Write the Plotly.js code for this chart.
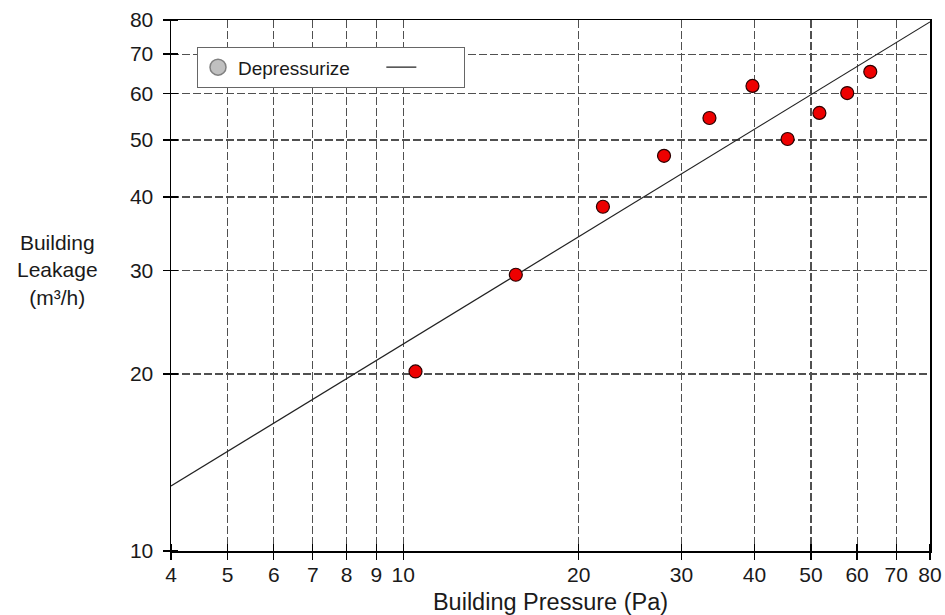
<!DOCTYPE html>
<html>
<head>
<meta charset="utf-8">
<script src="https://cdn.plot.ly/plotly-3.0.1.min.js"></script>
<style>
html,body{margin:0;padding:0;background:#fff;}
#chart{width:945px;height:615px;}
</style>
</head>
<body>
<div id="chart"></div>
<script>
// Measured points (Building Pressure in Pa, Building Leakage in m³/h)
var pressure = [10.5, 15.6, 22.0, 28.0, 33.5, 39.7, 45.6, 51.7, 57.7, 63.2];
var leakage  = [20.2, 29.5, 38.5, 47.0, 54.5, 61.8, 50.2, 55.6, 60.1, 65.3];

// Fitted power-law line endpoints
var fitPressure = [4, 80];
var fitLeakage  = [12.9, 79.4];

var legendName = "Depressurize";
var xTickVals = [4, 5, 6, 7, 8, 9, 10, 20, 30, 40, 50, 60, 70, 80];
var xTickText = ["4", "5", "6", "7", "8", "9", "10", "20", "30", "40", "50", "60", "70", "80"];
var yTickVals = [10, 20, 30, 40, 50, 60, 70, 80];
var yTickText = ["10", "20", "30", "40", "50", "60", "70", "80"];
var xTitle = "Building Pressure (Pa)";
var yTitle = "Building<br>Leakage<br>(m³/h)";

var FONT = "Liberation Sans, Arial, sans-serif";
var NB = "\u00a0";

var traces = [
  {
    x: [null], y: [null],
    type: "scatter", mode: "markers",
    name: legendName + NB + NB + NB + NB + NB,
    marker: {color: "#c0c0c0", size: 16, line: {color: "#808080", width: 1.5}},
    showlegend: true, hoverinfo: "skip"
  },
  {
    x: fitPressure, y: fitLeakage,
    type: "scatter", mode: "lines",
    name: NB + NB + NB + NB + NB + NB + NB,
    line: {color: "#222222", width: 1.2},
    showlegend: true, hoverinfo: "skip"
  },
  {
    x: pressure, y: leakage,
    type: "scatter", mode: "markers",
    name: "data",
    marker: {color: "#ee0000", size: 13, line: {color: "#2a0000", width: 1.2}},
    showlegend: false
  }
];

function axisBase(vals, txt) {
  return {
    type: "log",
    showgrid: true,
    gridcolor: "#505050",
    gridwidth: 1.2,
    griddash: "8px,3px",
    zeroline: false,
    showline: true,
    linecolor: "#000000",
    linewidth: 1.5,
    mirror: true,
    ticks: "outside",
    ticklen: 7,
    tickwidth: 1.3,
    tickcolor: "#000000",
    tickfont: {family: FONT, size: 21, color: "#1a1a1a"},
    tickmode: "array",
    tickvals: vals,
    ticktext: txt,
    minor: {
      tickmode: "array",
      tickvals: vals,
      ticks: "inside",
      ticklen: 7,
      tickwidth: 1.3,
      tickcolor: "#000000",
      showgrid: false
    }
  };
}

var layout = {
  width: 945, height: 615,
  paper_bgcolor: "#ffffff", plot_bgcolor: "#ffffff",
  margin: {l: 171, r: 15, t: 20, b: 64},
  font: {family: FONT, color: "#1a1a1a"},
  xaxis: Object.assign(axisBase(xTickVals, xTickText), {
    range: [Math.log10(4), Math.log10(80)],
    ticklabelstandoff: -3,
    title: {text: xTitle, font: {family: FONT, size: 23.5, color: "#1a1a1a"}, standoff: 9}
  }),
  yaxis: Object.assign(axisBase(yTickVals, yTickText), {
    range: [1, Math.log10(80)],
    ticklabelstandoff: 5
  }),
  legend: {
    orientation: "h",
    x: 0.034, y: 0.949, xanchor: "left", yanchor: "top",
    bgcolor: "#ffffff",
    bordercolor: "#666666", borderwidth: 1.2,
    font: {family: FONT, size: 19, color: "#1a1a1a"},
    itemwidth: 30,
    traceorder: "normal"
  },
  annotations: [{
    text: yTitle,
    xref: "paper", yref: "paper",
    x: -0.149, y: 0.529,
    xanchor: "center", yanchor: "middle",
    showarrow: false,
    align: "center",
    font: {family: FONT, size: 21, color: "#1a1a1a"}
  }]
};

Plotly.newPlot("chart", traces, layout, {displayModeBar: false, staticPlot: true});
</script>
</body>
</html>
